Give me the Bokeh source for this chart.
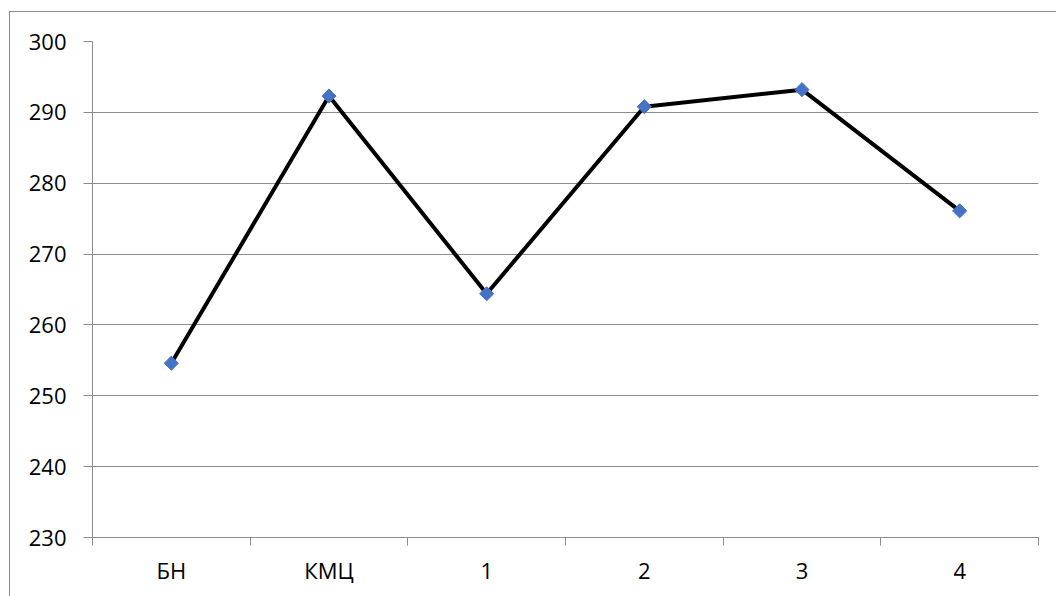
import math
from bokeh.plotting import figure
from bokeh.models import FixedTicker, Range1d, ColumnDataSource
from bokeh.embed import file_html
from bokeh.resources import INLINE

# ---- data ----
categories = ["БН", "КМЦ", "1", "2", "3", "4"]
values = [254.6, 292.3, 264.4, 290.8, 293.2, 276.1]
y_ticks = [230, 240, 250, 260, 270, 280, 290, 300]

x_pos = [i + 0.5 for i in range(len(categories))]
source = ColumnDataSource(dict(x=x_pos, y=values, cat=categories))

GRID = "#8c8c8c"
FONT = "Open Sans"

p = figure(width=1047, height=585, output_backend="svg", toolbar_location=None,
           x_range=Range1d(0, len(categories)), y_range=Range1d(min(y_ticks), max(y_ticks)),
           min_border_left=82, min_border_right=19, min_border_top=29, min_border_bottom=60)
p.margin = (11, 0, 0, 9)
p.styles = {"border-left": "1px solid #8c8c8c", "border-top": "1px solid #8c8c8c"}
p.outline_line_color = None
p.background_fill_color = "white"
p.border_fill_color = "white"

# x axis: category boundaries as minor ticks, labels at centres
xa = p.xaxis[0]
xa.ticker = FixedTicker(ticks=x_pos, minor_ticks=list(range(len(categories) + 1)))
xa.major_label_overrides = {x: c for x, c in zip(x_pos, categories)}
xa.major_tick_out = 0
xa.major_tick_in = 0
xa.minor_tick_out = 8
xa.minor_tick_in = 0
xa.minor_tick_line_color = GRID
xa.axis_line_color = GRID
xa.major_label_text_font = FONT
xa.major_label_text_font_size = "22px"
xa.major_label_text_color = "black"
xa.major_label_standoff = 9

ya = p.yaxis[0]
ya.ticker = FixedTicker(ticks=y_ticks)
ya.major_tick_out = 9
ya.major_tick_in = 0
ya.minor_tick_out = 0
ya.minor_tick_in = 0
ya.major_tick_line_color = GRID
ya.axis_line_color = GRID
ya.major_label_text_font = FONT
ya.major_label_text_font_size = "22px"
ya.major_label_text_color = "black"
ya.major_label_standoff = 17

p.xgrid.grid_line_color = None
p.ygrid.grid_line_color = GRID
p.ygrid.grid_line_width = 1

p.line("x", "y", source=source, line_color="black", line_width=4)
p.scatter("x", "y", source=source, marker="square", size=10, angle=math.pi / 4,
          fill_color="#4472C4", line_color="#4472C4")

open("out.html", "w").write(file_html(p, INLINE))
